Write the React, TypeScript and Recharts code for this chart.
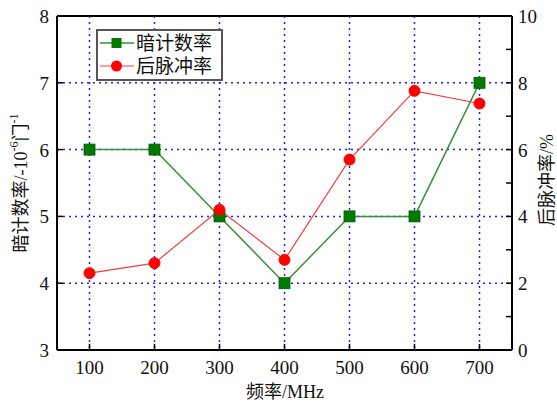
import React from 'react';
import { LineChart, Line, XAxis, YAxis, CartesianGrid, ReferenceLine } from 'recharts';

const freqs = [100, 200, 300, 400, 500, 600, 700];
const darkCount = [6, 6, 5, 4, 5, 5, 7];
const afterPulse = [2.3, 2.6, 4.2, 2.7, 5.7, 7.76, 7.38];
const xTicks = [100, 200, 300, 400, 500, 600, 700];
const leftTicks = [3, 4, 5, 6, 7, 8];
const rightTicks = [0, 1, 2, 3, 4, 5, 6, 7, 8, 9, 10];
const rightLabelTicks = [0, 2, 4, 6, 8, 10];

const seriesNames = ['暗计数率', '后脉冲率'];

const data = freqs.map((f, i) => ({ f, dark: darkCount[i], after: afterPulse[i] }));

const FONT = "'Liberation Serif', 'Noto Sans CJK SC', serif";
const GREEN_LINE = '#3c8f3c';
const GREEN_MARK = '#007a00';
const RED_LINE = '#f04040';
const RED_MARK = '#ff0000';

const XTick = (props: any) => {
  const { x, y, payload } = props;
  return (
    <g>
      <line x1={x} x2={x} y1={y - 8} y2={y - 14} stroke="#000" strokeWidth={1.5} />
      <text x={x} y={y + 16} textAnchor="middle" fontFamily={FONT} fontSize={19} fill="#111">
        {payload.value}
      </text>
    </g>
  );
};

const LeftTick = (props: any) => {
  const { x, y, payload } = props;
  return (
    <g>
      <line x1={x + 8} x2={x + 14} y1={y} y2={y} stroke="#000" strokeWidth={1.5} />
      <text x={x} y={y + 7} textAnchor="end" fontFamily={FONT} fontSize={19} fill="#111">
        {payload.value}
      </text>
    </g>
  );
};

const RightTick = (props: any) => {
  const { x, y, payload } = props;
  const showLabel = rightLabelTicks.includes(payload.value);
  return (
    <g>
      <line x1={x - 6} x2={x - 12} y1={y} y2={y} stroke="#000" strokeWidth={1.5} />
      {showLabel && (
        <text x={x} y={y + 7} textAnchor="start" fontFamily={FONT} fontSize={19} fill="#111">
          {payload.value}
        </text>
      )}
    </g>
  );
};

const SquareDot = (props: any) => {
  const { cx, cy, index } = props;
  if (cx == null || cy == null) return <g key={`sq-${index}`} />;
  return (
    <rect key={`sq-${index}`} x={cx - 5.5} y={cy - 5.5} width={11} height={11} fill={GREEN_MARK} stroke="#005a00" strokeWidth={0.8} />
  );
};

const CircleDot = (props: any) => {
  const { cx, cy, index } = props;
  if (cx == null || cy == null) return <g key={`ci-${index}`} />;
  return <circle key={`ci-${index}`} cx={cx} cy={cy} r={5.5} fill={RED_MARK} stroke={RED_MARK} />;
};

const LegendBox = () => (
  <svg width={127} height={52} style={{ display: 'block' }}>
    <rect x={1} y={1} width={125} height={50} fill="#fff" stroke="#555" strokeWidth={2} />
    <line x1={4} x2={38} y1={14} y2={14} stroke={GREEN_LINE} strokeWidth={1.5} />
    <rect x={15.5} y={9} width={10} height={10} fill={GREEN_MARK} />
    <text x={40} y={21} fontFamily={FONT} fontSize={19} fill="#111">{seriesNames[0]}</text>
    <line x1={4} x2={38} y1={37} y2={37} stroke={RED_LINE} strokeWidth={1.2} />
    <circle cx={20.5} cy={37} r={5.5} fill={RED_MARK} />
    <text x={40} y={44} fontFamily={FONT} fontSize={19} fill="#111">{seriesNames[1]}</text>
  </svg>
);

const LeftTitle = () => {
  const cx = 21;
  const cy = 183;
  return (
    <text x={cx} y={cy} transform={`rotate(-90 ${cx} ${cy})`} textAnchor="middle" dominantBaseline="central" fontFamily={FONT} fontSize={18} fill="#111">
      <tspan>暗计数率/-10</tspan>
      <tspan dy={-7} fontSize={12}>-6</tspan>
      <tspan dy={7}>门</tspan>
      <tspan dy={-7} fontSize={12}>-1</tspan>
    </text>
  );
};

const RightTitle = () => {
  const cx = 547;
  const cy = 180;
  return (
    <text x={cx} y={cy} transform={`rotate(-90 ${cx} ${cy})`} textAnchor="middle" dominantBaseline="central" fontFamily={FONT} fontSize={18} fill="#111">
      后脉冲率/%
    </text>
  );
};

const BottomTitle = () => (
  <text x={285} y={398} textAnchor="middle" fontFamily={FONT} fontSize={18} fill="#111">
    频率/MHz
  </text>
);

export default function App() {
  return (
    <div style={{ position: 'absolute', left: 0, top: 0, width: 557, height: 406, background: '#fff' }}>
      <LineChart width={557} height={406} data={data} margin={{ top: 16, right: 0, left: 0, bottom: 0 }}>
        <CartesianGrid yAxisId="left" stroke="#2222ee" strokeWidth={1.5} strokeDasharray="2 4" />
        <XAxis
          dataKey="f"
          type="number"
          domain={[50, 750]}
          ticks={xTicks}
          height={56}
          tickSize={0}
          tickMargin={8}
          tick={<XTick />}
          axisLine={{ stroke: '#000', strokeWidth: 2 }}
          tickLine={false}
          label={<BottomTitle />}
        />
        <YAxis
          yAxisId="left"
          domain={[3, 8]}
          ticks={leftTicks}
          width={57}
          tickSize={0}
          tickMargin={8}
          tick={<LeftTick />}
          axisLine={{ stroke: '#000', strokeWidth: 2 }}
          tickLine={false}
          label={<LeftTitle />}
        />
        <YAxis
          yAxisId="right"
          orientation="right"
          domain={[0, 10]}
          ticks={rightTicks}
          interval={0}
          width={45}
          tickSize={0}
          tickMargin={6}
          tick={<RightTick />}
          axisLine={{ stroke: '#000', strokeWidth: 2 }}
          tickLine={false}
          label={<RightTitle />}
        />
        <ReferenceLine yAxisId="left" y={8} stroke="#000" strokeWidth={2} />
        <Line
          yAxisId="left"
          dataKey="dark"
          name={seriesNames[0]}
          stroke={GREEN_LINE}
          strokeWidth={1.5}
          dot={SquareDot}
          activeDot={false}
          isAnimationActive={false}
        />
        <Line
          yAxisId="right"
          dataKey="after"
          name={seriesNames[1]}
          stroke={RED_LINE}
          strokeWidth={1.2}
          dot={CircleDot}
          activeDot={false}
          isAnimationActive={false}
        />
      </LineChart>
      <div style={{ position: 'absolute', left: 96, top: 29 }}>
        <LegendBox />
      </div>
    </div>
  );
}
